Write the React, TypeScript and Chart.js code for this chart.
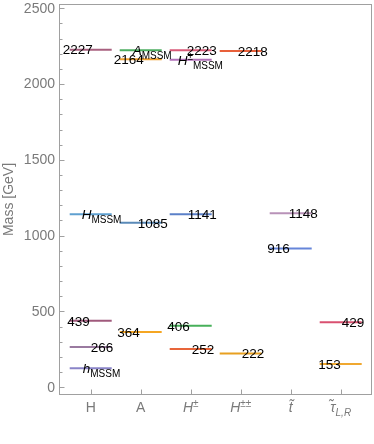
import React, { useEffect, useRef } from 'react';
import { Chart, registerables } from 'chart.js';

Chart.register(...registerables);

type Part = { t: string; k: 'n' | 'i' | 'sub' | 'sup' | 'isub' };

// Category axis (positions 1..6)
const categories: Part[][] = [
  [{ t: 'H', k: 'n' }],
  [{ t: 'A', k: 'n' }],
  [{ t: 'H', k: 'i' }, { t: '±', k: 'sup' }],
  [{ t: 'H', k: 'i' }, { t: '±±', k: 'sup' }],
  [{ t: 't\u0303', k: 'i' }],
  [{ t: '\u03C4\u0303', k: 'i' }, { t: 'L,R', k: 'isub' }],
];

// Mass levels
const levelCategory = [1, 1, 1, 1, 1, 2, 2, 2, 2, 3, 3, 3, 3, 3, 4, 4, 5, 5, 6, 6];
const levelMass = [2227, 1141, 439, 266, 125, 2223, 2164, 1085, 364, 2223, 2160, 1141, 406, 252, 2218, 222, 1148, 916, 429, 153];
const levelLabel: Part[][] = [
  [{ t: '2227', k: 'n' }],
  [{ t: 'H', k: 'i' }, { t: 'MSSM', k: 'sub' }],
  [{ t: '439', k: 'n' }],
  [{ t: '266', k: 'n' }],
  [{ t: 'h', k: 'i' }, { t: 'MSSM', k: 'sub' }],
  [{ t: 'A', k: 'i' }, { t: 'MSSM', k: 'sub' }],
  [{ t: '2164', k: 'n' }],
  [{ t: '1085', k: 'n' }],
  [{ t: '364', k: 'n' }],
  [{ t: '2223', k: 'n' }],
  [{ t: 'H', k: 'i' }, { t: '±', k: 'sup' }, { t: 'MSSM', k: 'sub' }],
  [{ t: '1141', k: 'n' }],
  [{ t: '406', k: 'n' }],
  [{ t: '252', k: 'n' }],
  [{ t: '2218', k: 'n' }],
  [{ t: '222', k: 'n' }],
  [{ t: '1148', k: 'n' }],
  [{ t: '916', k: 'n' }],
  [{ t: '429', k: 'n' }],
  [{ t: '153', k: 'n' }],
];
const levelColor = [
  '#a8607f', '#5fa0d0', '#a05a7c', '#9a7aa0', '#8a84c8',
  '#4cae60', '#f0a030', '#5a8ab8', '#f5a623',
  '#d95a78', '#b070b8', '#5b80c8', '#47b05a', '#e8653a',
  '#e8603a', '#e8a020',
  '#b892b8', '#6685d9',
  '#d95070', '#f0a830',
];
// label placement: 'end' = text ends at anchor, 'start' = text begins at anchor; dx in px from level center
const labelAlign = ['end', 'start', 'end', 'start', 'start', 'start', 'end', 'start', 'end', 'start', 'start', 'start', 'end', 'start', 'start', 'start', 'start', 'end', 'start', 'end'];
const labelDx = [2, -9, -1, 0, -8, -8, 3, -3, -1, -4, -13, -3, -1, 1, -3, 1, -2, -1, 1, 0];

const yMajorTicks = [0, 500, 1000, 1500, 2000, 2500];
const yMinorStep = 100;

const FONT = '"Liberation Sans", Arial, Helvetica, sans-serif';
const GRAY = '#7a7a7a';
const FRAME = '#a0a0a0';

function fontFor(k: Part['k'], size: number, sub: number) {
  if (k === 'i') return `italic ${size}px ${FONT}`;
  if (k === 'sub' || k === 'sup') return `${sub}px ${FONT}`;
  if (k === 'isub') return `italic ${sub}px ${FONT}`;
  return `${size}px ${FONT}`;
}

function drawRich(ctx: CanvasRenderingContext2D, parts: Part[], x: number, baseY: number, align: string, size: number, sub: number) {
  const widths = parts.map((p) => {
    ctx.font = fontFor(p.k, size, sub);
    return ctx.measureText(p.t).width;
  });
  const total = widths.reduce((a, b) => a + b, 0);
  let cx = align === 'end' ? x - total : align === 'center' ? x - total / 2 : x;
  ctx.textAlign = 'left';
  ctx.textBaseline = 'alphabetic';
  parts.forEach((p, i) => {
    ctx.font = fontFor(p.k, size, sub);
    let dy = 0;
    if (p.k === 'sub' || p.k === 'isub') dy = 4;
    if (p.k === 'sup') dy = -5;
    ctx.fillText(p.t, cx, baseY + dy);
    cx += widths[i];
  });
}

const decorPlugin = {
  id: 'decor',
  afterDatasetsDraw(chart: any) {
    const ctx: CanvasRenderingContext2D = chart.ctx;
    const xs = chart.scales.x;
    const ys = chart.scales.y;
    const area = chart.chartArea;
    ctx.save();
    // frame
    ctx.strokeStyle = FRAME;
    ctx.lineWidth = 1;
    ctx.strokeRect(Math.round(area.left) + 0.5, Math.round(area.top) + 0.5, Math.round(area.right - area.left) - 1, Math.round(area.bottom - area.top) - 1);
    // y ticks
    const left = Math.round(area.left) + 0.5;
    for (let v = 0; v <= 2500; v += yMinorStep) {
      const py = Math.round(ys.getPixelForValue(v)) + 0.5;
      const major = yMajorTicks.includes(v);
      ctx.beginPath();
      ctx.moveTo(left, py);
      ctx.lineTo(left + (major ? 5 : 3), py);
      ctx.stroke();
    }
    // x ticks
    const bottom = Math.round(area.bottom) - 0.5;
    categories.forEach((_, i) => {
      const px = Math.round(xs.getPixelForValue(i + 1)) + 0.5;
      ctx.beginPath();
      ctx.moveTo(px, bottom);
      ctx.lineTo(px, bottom - 5);
      ctx.stroke();
    });
    // y tick labels
    ctx.fillStyle = GRAY;
    ctx.font = `14px ${FONT}`;
    ctx.textAlign = 'right';
    ctx.textBaseline = 'middle';
    yMajorTicks.forEach((v) => {
      ctx.fillText(String(v), area.left - 4, ys.getPixelForValue(v) + 0.5);
    });
    // x tick labels
    categories.forEach((parts, i) => {
      drawRich(ctx, parts, xs.getPixelForValue(i + 1), area.bottom + 17, 'center', 14, 10);
    });
    // axis title
    ctx.save();
    ctx.translate(13, (area.top + area.bottom) / 2);
    ctx.rotate(-Math.PI / 2);
    ctx.font = `14px ${FONT}`;
    ctx.textAlign = 'center';
    ctx.textBaseline = 'alphabetic';
    ctx.fillStyle = GRAY;
    ctx.fillText('Mass [GeV]', 0, 0);
    ctx.restore();
    // level labels
    ctx.fillStyle = '#000';
    levelLabel.forEach((parts, i) => {
      const cx = xs.getPixelForValue(levelCategory[i]) + labelDx[i];
      const cy = ys.getPixelForValue(levelMass[i]);
      drawRich(ctx, parts, cx, cy + 4.8, labelAlign[i], 13.5, 10);
    });
    ctx.restore();
  },
};

export default function App() {
  const ref = useRef<HTMLCanvasElement | null>(null);
  useEffect(() => {
    if (!ref.current) return;
    const datasets = levelMass.map((m, i) => ({
      data: [
        { x: levelCategory[i] - 0.42, y: m },
        { x: levelCategory[i] + 0.42, y: m },
      ],
      borderColor: levelColor[i],
      backgroundColor: levelColor[i],
      borderWidth: 2,
      pointRadius: 0,
      showLine: true,
      borderCapStyle: 'butt' as const,
    }));
    const chart = new Chart(ref.current, {
      type: 'scatter',
      data: { datasets },
      options: {
        animation: false,
        responsive: false,
        maintainAspectRatio: false,
        devicePixelRatio: 1,
        layout: { padding: { left: 59, top: 4, right: 2, bottom: 49 } },
        plugins: { legend: { display: false }, tooltip: { enabled: false } },
        scales: {
          x: { type: 'linear', min: 0.366, max: 6.626, display: false },
          y: { type: 'linear', min: -51, max: 2528, display: false },
        },
      },
      plugins: [decorPlugin],
    });
    return () => chart.destroy();
  }, []);
  return (
    <div style={{ position: 'absolute', left: 0, top: 0, width: 374, height: 444, background: '#fff' }}>
      <canvas ref={ref} width={374} height={444} style={{ width: 374, height: 444 }} />
    </div>
  );
}
